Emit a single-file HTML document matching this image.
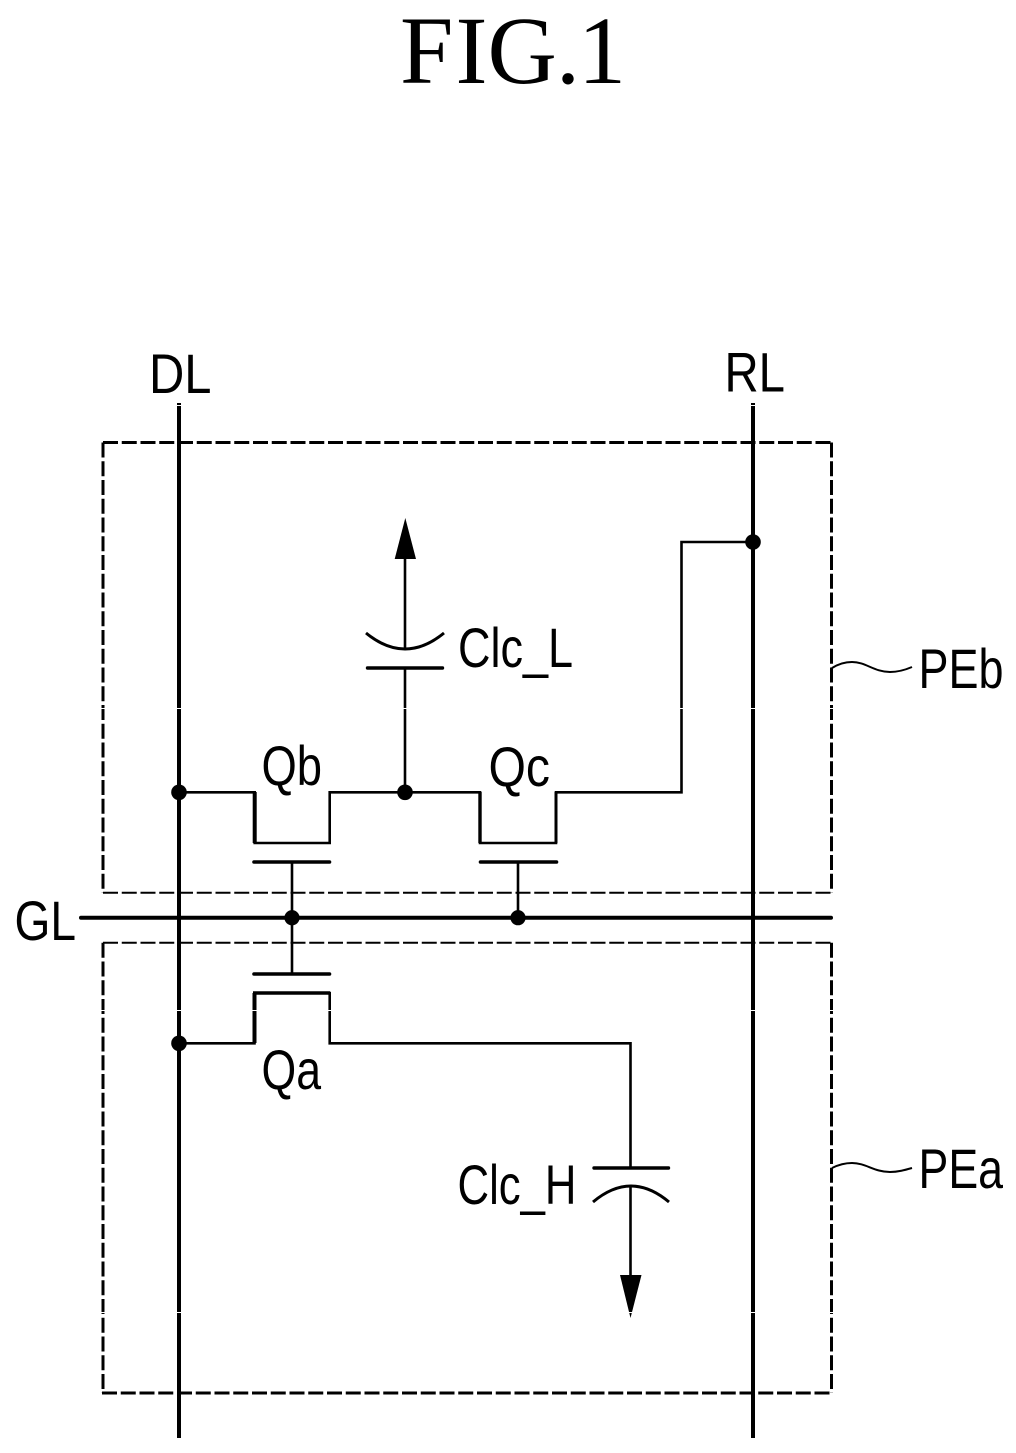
<!DOCTYPE html>
<html>
<head>
<meta charset="utf-8">
<style>
html,body{margin:0;padding:0;background:#fff;width:1016px;height:1453px;overflow:hidden}
svg{display:block}
text{fill:#000;font-family:"Liberation Sans",sans-serif;font-size:56px}
</style>
</head>
<body>
<svg width="1016" height="1453" viewBox="0 0 1016 1453" xmlns="http://www.w3.org/2000/svg">
<text x="400 455.5 487.5 556 578" y="83" style="font-family:'Liberation Serif',serif;font-size:96px">FIG.1</text>

<!-- dashed boxes -->
<g fill="none" stroke="#000" stroke-dasharray="15 3.75">
<path d="M103 442.5H831.5" stroke-width="3"/>
<path d="M103 442.5V892.7" stroke-width="3"/>
<path d="M831.5 442.5V892.7" stroke-width="3"/>
<path d="M103 892.7H831.5" stroke-width="2"/>
<path d="M103 942.7H831.5" stroke-width="2"/>
<path d="M103 942.7V1393" stroke-width="3"/>
<path d="M831.5 942.7V1393" stroke-width="3"/>
<path d="M102 1393H831.5" stroke-width="3"/>
</g>

<g fill="none" stroke="#000" stroke-width="2.6">
<path d="M179 403V1438" stroke-width="4"/>
<path d="M753 403V1438" stroke-width="4"/>
<path d="M81 917.7H831" stroke-width="4" stroke-linecap="round"/>

<!-- upper wire -->
<path d="M179 792.3H254.7V843H329.7V792.3H480V843H556V792.3H681.5V542H753"/>
<path d="M254.7 792V843" stroke-width="4"/>
<path d="M480 792V843" stroke-width="3.4"/>
<path d="M556 792V843" stroke-width="3"/>

<!-- Clc_L -->
<path d="M405 792V668"/>
<path d="M405 649V556"/>
<path d="M367.5 668H442.5" stroke-width="3.4" stroke-linecap="round"/>
<path d="M366 633Q405 665 444 633" stroke-width="3"/>

<!-- gates -->
<path d="M254 862H329.5" stroke-width="3.6" stroke-linecap="round"/>
<path d="M480.5 862H556.5" stroke-width="3.6" stroke-linecap="round"/>
<path d="M292 862V974"/>
<path d="M518 862V918"/>
<path d="M254 974H329.5" stroke-width="3.6" stroke-linecap="round"/>

<!-- lower wire -->
<path d="M179 1043.3H254.5V993H329.7V1043.3H630.5V1168"/>
<path d="M254.5 993V1043" stroke-width="4"/>
<path d="M253 993H330" stroke-width="3.4"/>

<!-- Clc_H -->
<path d="M594 1168H668.5" stroke-width="3.4" stroke-linecap="round"/>
<path d="M593 1202Q631 1170 669 1202" stroke-width="3"/>
<path d="M630.5 1186V1280"/>

<!-- leaders -->
<path d="M832 668C840 663 846 662 852 662C866 662 874 672 890 672C898 672 905 670 912 667" stroke-width="2"/>
<path d="M832 1168C840 1164 846 1163 852 1163C866 1163 874 1172 890 1172C898 1172 905 1170 912 1168" stroke-width="2"/>
</g>

<polygon points="405.3,518 394.7,559 416,559" fill="#000"/>
<polygon points="630.5,1318 620,1275 641.5,1275" fill="#000"/>

<g fill="#000">
<circle cx="753" cy="542" r="7.8"/>
<circle cx="179" cy="792.3" r="7.8"/>
<circle cx="405" cy="792.3" r="7.8"/>
<circle cx="292" cy="917.7" r="7.6"/>
<circle cx="518" cy="917.7" r="7.6"/>
<circle cx="179" cy="1043.3" r="7.8"/>
</g>

<!-- thin scan seams -->
<g fill="#fff" shape-rendering="crispEdges">
<rect x="0" y="405" width="1016" height="1"/>
<rect x="0" y="708" width="1016" height="1"/>
<rect x="0" y="1010" width="1016" height="1"/>
<rect x="0" y="1312" width="1016" height="1"/>
</g>

<text x="149" y="393" textLength="62.5" lengthAdjust="spacingAndGlyphs">DL</text>
<text x="724.5" y="391.5" textLength="60.5" lengthAdjust="spacingAndGlyphs">RL</text>
<text x="14.5" y="940" textLength="61.5" lengthAdjust="spacingAndGlyphs">GL</text>
<text x="458" y="667" textLength="115" lengthAdjust="spacingAndGlyphs">Clc_L</text>
<text x="457.5" y="1204" textLength="119" lengthAdjust="spacingAndGlyphs">Clc_H</text>
<text x="261.5" y="785" textLength="60.5" lengthAdjust="spacingAndGlyphs">Qb</text>
<text x="488.5" y="786" textLength="61.5" lengthAdjust="spacingAndGlyphs">Qc</text>
<text x="261.5" y="1089" textLength="59.5" lengthAdjust="spacingAndGlyphs">Qa</text>
<text x="918.5" y="688" textLength="85" lengthAdjust="spacingAndGlyphs">PEb</text>
<text x="918.5" y="1188" textLength="84.5" lengthAdjust="spacingAndGlyphs">PEa</text>
</svg>
</body>
</html>
